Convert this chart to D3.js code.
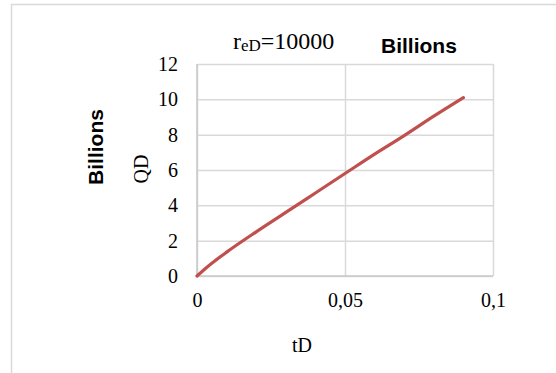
<!DOCTYPE html>
<html>
<head>
<meta charset="utf-8">
<script src="https://cdn.jsdelivr.net/npm/d3@7"></script>
<style>
  html, body { margin: 0; padding: 0; background: #fff; }
  svg { display: block; }
</style>
</head>
<body>
<svg id="chart" width="556" height="373"></svg>
<script>
// Dimensionless time tD and cumulative production QD (in billions)
const tD = [0, 0.002, 0.005, 0.01, 0.02, 0.03, 0.04, 0.05, 0.06, 0.07, 0.08, 0.09];
const QD = [0, 0.3, 0.72, 1.35, 2.5, 3.6, 4.7, 5.8, 6.9, 7.95, 9.05, 10.1];
const xTicks = [0, 0.05, 0.1];
const yTicks = [0, 2, 4, 6, 8, 10, 12];

const svg = d3.select("#chart");
const plot = { left: 197, right: 493, top: 64, bottom: 276 };

const x = d3.scaleLinear().domain([0, 0.1]).range([plot.left, plot.right]);
const y = d3.scaleLinear().domain([0, 12]).range([plot.bottom, plot.top]);

const serif = "'Liberation Serif', 'Times New Roman', serif";
const sans = "'Liberation Sans', Arial, sans-serif";

// Outer chart frame
svg.append("rect")
  .attr("x", 11.5).attr("y", 4.5)
  .attr("width", 560).attr("height", 380)
  .attr("fill", "#fff").attr("stroke", "#d9d9d9").attr("stroke-width", 1.5);

// Horizontal gridlines with tick labels
const yAxis = d3.axisLeft(y).tickValues(yTicks)
  .tickSize(-(plot.right - plot.left)).tickPadding(19)
  .tickFormat(d3.format("d"));
const gy = svg.append("g").attr("transform", `translate(${plot.left},0)`).call(yAxis);
gy.select(".domain").remove();
gy.selectAll(".tick line").attr("stroke", "#d9d9d9").attr("stroke-width", 1.5);
gy.selectAll(".tick text").attr("font-family", serif).attr("font-size", 20).attr("fill", "#000");

// Vertical gridlines with tick labels
const fmtX = d => d === 0 ? "0" : String(d).replace(".", ",");
const xAxis = d3.axisBottom(x).tickValues(xTicks)
  .tickSize(-(plot.bottom - plot.top)).tickPadding(17)
  .tickFormat(fmtX);
const gx = svg.append("g").attr("transform", `translate(0,${plot.bottom})`).call(xAxis);
gx.select(".domain").remove();
gx.selectAll(".tick line").attr("stroke", "#d9d9d9").attr("stroke-width", 1.5);
gx.selectAll(".tick text").attr("font-family", serif).attr("font-size", 20).attr("fill", "#000");

// Axis lines
svg.append("line").attr("x1", plot.left).attr("x2", plot.left)
  .attr("y1", plot.top).attr("y2", plot.bottom)
  .attr("stroke", "#c8c8c8").attr("stroke-width", 1.5);
svg.append("line").attr("x1", plot.left).attr("x2", plot.right)
  .attr("y1", plot.bottom).attr("y2", plot.bottom)
  .attr("stroke", "#c8c8c8").attr("stroke-width", 1.5);

// Data curve
const line = d3.line().x((d, i) => x(tD[i])).y(d => y(d)).curve(d3.curveMonotoneX);
svg.append("path").datum(QD)
  .attr("d", line)
  .attr("fill", "none")
  .attr("stroke", "#c0504d")
  .attr("stroke-width", 3.2)
  .attr("stroke-linecap", "round");

// Title with subscript
const title = svg.append("text")
  .attr("x", 233).attr("y", 48.5)
  .attr("font-family", serif).attr("font-size", 24).attr("fill", "#000");
title.append("tspan").text("r");
title.append("tspan").attr("font-size", 17).attr("dy", 2.5).text("eD");
title.append("tspan").attr("dy", -2.5).text("=10000");

// Units labels
svg.append("text")
  .attr("x", 381).attr("y", 53)
  .attr("font-family", sans).attr("font-weight", "bold").attr("font-size", 21)
  .attr("fill", "#000").text("Billions");

svg.append("text")
  .attr("transform", "translate(103,147) rotate(-90)")
  .attr("text-anchor", "middle")
  .attr("font-family", sans).attr("font-weight", "bold").attr("font-size", 21)
  .attr("fill", "#000").text("Billions");

// Axis titles
svg.append("text")
  .attr("transform", "translate(148,169) rotate(-90)")
  .attr("text-anchor", "middle")
  .attr("font-family", serif).attr("font-size", 20)
  .attr("fill", "#000").text("QD");

svg.append("text")
  .attr("x", 302).attr("y", 352)
  .attr("text-anchor", "middle")
  .attr("font-family", serif).attr("font-size", 20)
  .attr("fill", "#000").text("tD");
</script>
</body>
</html>
